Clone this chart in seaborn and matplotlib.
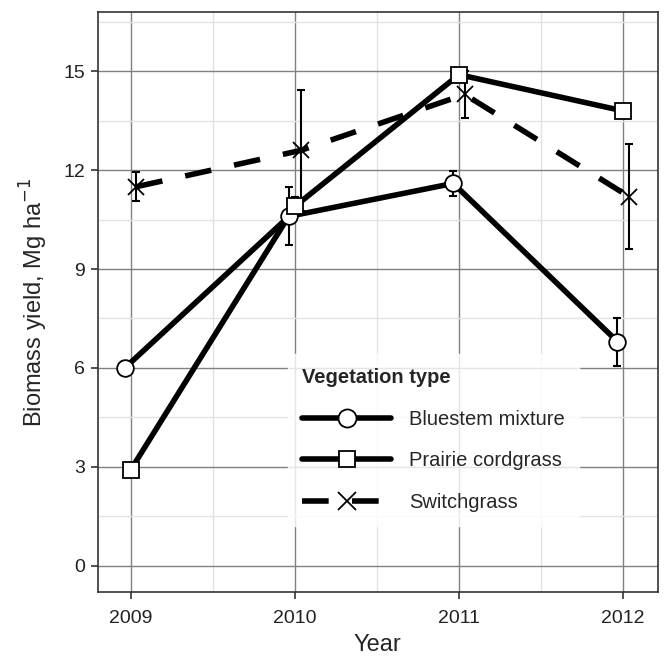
import matplotlib
matplotlib.use("Agg")
import matplotlib.pyplot as plt
import seaborn as sns
import pandas as pd
from matplotlib.ticker import MultipleLocator

# Data
years = [2009, 2010, 2011, 2012]
veg_types = ["Bluestem mixture", "Prairie cordgrass", "Switchgrass"]
bluestem = [6.0, 10.6, 11.6, 6.8]
bluestem_err = [0.2, 0.88, 0.37, 0.73]
cordgrass = [2.9, 10.9, 14.9, 13.8]
cordgrass_err = [0.2, 0.3, 0.2, 0.2]
switchgrass = [11.5, 12.6, 14.3, 11.2]
switchgrass_err = [0.44, 1.85, 0.72, 1.6]

yields = {"Bluestem mixture": bluestem, "Prairie cordgrass": cordgrass, "Switchgrass": switchgrass}
errors = {"Bluestem mixture": bluestem_err, "Prairie cordgrass": cordgrass_err, "Switchgrass": switchgrass_err}

# Small horizontal dodge so the error bars don't overlap
dodge = {"Bluestem mixture": -0.035, "Prairie cordgrass": 0.0, "Switchgrass": 0.035}
markers = {"Bluestem mixture": "o", "Prairie cordgrass": "s", "Switchgrass": "x"}
msizes = {"Bluestem mixture": 12, "Prairie cordgrass": 11, "Switchgrass": 12}
dashes = {"Bluestem mixture": "-", "Prairie cordgrass": "-", "Switchgrass": (0, (4.8, 4.2))}

rows = []
for v in veg_types:
    for yr, val, err in zip(years, yields[v], errors[v]):
        rows.append({"veg": v, "year": yr + dodge[v], "yield": val, "err": err})
df = pd.DataFrame(rows)

sns.set_style("white")
plt.rcParams["font.family"] = ["Liberation Sans", "DejaVu Sans"]

fig = plt.figure(figsize=(6.65, 6.56), dpi=100)
ax = fig.add_axes([0.147, 0.0976, 0.842, 0.884])

LW = 4.0
for v in veg_types:
    sub = df[df["veg"] == v]
    sns.lineplot(data=sub, x="year", y="yield", ax=ax, color="black",
                 linewidth=LW, linestyle=dashes[v], zorder=3, legend=False)
    ax.errorbar(sub["year"], sub["yield"], yerr=sub["err"], fmt="none",
                ecolor="black", elinewidth=1.5, capsize=3, capthick=1.5, zorder=4)
    face = "white" if markers[v] != "x" else "black"
    ax.plot(sub["year"], sub["yield"], linestyle="none", marker=markers[v],
            markersize=msizes[v], markerfacecolor=face, markeredgecolor="black",
            markeredgewidth=1.3, zorder=5)

# Legend handles built from the same styles
handles = []
for v in veg_types:
    face = "white" if markers[v] != "x" else "black"
    h, = ax.plot([], [], color="black", linewidth=LW, linestyle=dashes[v],
                 marker=markers[v], markersize=msizes[v] + 1, markerfacecolor=face,
                 markeredgecolor="black", markeredgewidth=1.3)
    handles.append(h)

leg = ax.legend(handles, veg_types, title="Vegetation type", loc="upper left",
                bbox_to_anchor=(0.34, 0.41), frameon=True, fontsize=14.5,
                title_fontproperties={"weight": "bold", "size": 14.5},
                handlelength=4.4, labelspacing=1.12, handletextpad=0.9,
                borderpad=0.7, borderaxespad=0, alignment="left", fancybox=False)
leg.get_frame().set_edgecolor("white")
leg.get_frame().set_facecolor("white")
leg.set_zorder(6)

ax.set_xlim(2008.8, 2012.21)
ax.set_ylim(-0.8, 16.8)
ax.set_xticks(years)
ax.set_xticklabels([str(y) for y in years])
ax.xaxis.set_minor_locator(MultipleLocator(0.5))
ax.yaxis.set_major_locator(MultipleLocator(3))
ax.yaxis.set_minor_locator(MultipleLocator(1.5))

ax.grid(True, which="major", color="#808080", linewidth=1.0, zorder=0)
ax.grid(True, which="minor", color="#e3e3e3", linewidth=1.0, zorder=0)
ax.set_axisbelow(True)

for s in ax.spines.values():
    s.set_color("#333333")
    s.set_linewidth(1.2)

ax.tick_params(axis="both", which="major", direction="out", length=5, width=1.2,
               color="#333333", labelsize=14, labelcolor="#222222", pad=4)
ax.tick_params(axis="x", which="major", pad=8)
ax.tick_params(axis="both", which="minor", length=0)
ax.tick_params(bottom=True, left=True)

ax.set_xlabel("Year", fontsize=17, labelpad=5)
ax.set_ylabel("Biomass yield, Mg ha$^{-1}$", fontsize=17, labelpad=10)

fig.savefig("out.png", dpi=100)
